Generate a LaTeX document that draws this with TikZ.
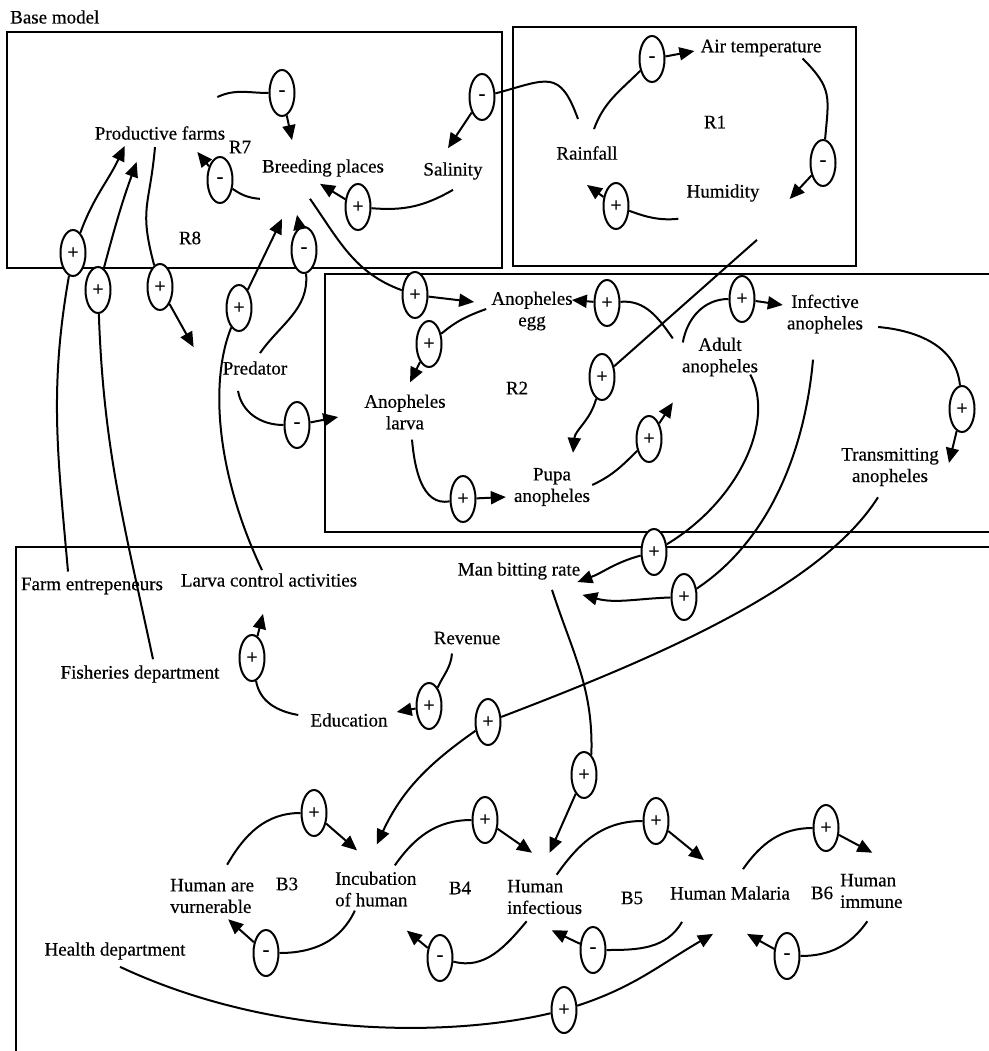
\documentclass[tikz,border=0pt]{standalone}
\usepackage{fontspec}
\setmainfont{Liberation Serif}[FakeBold=0.4]
\usetikzlibrary{shapes.geometric,arrows.meta}

\begin{document}
\begin{tikzpicture}[x=1pt,y=1pt,
   var/.style={inner sep=2pt,align=center,font=\fontsize{19}{21.5}\selectfont},
   pol/.style={draw,ellipse,fill=white,line width=2pt,inner sep=0pt,
     minimum width=25pt,minimum height=46pt,font=\fontsize{20}{20}\selectfont},
   flow/.style={line width=2pt},
   flowto/.style={flow,-{Triangle[length=15pt,width=13pt]}},
   box/.style={line width=2.4pt}]

\useasboundingbox (0,0) rectangle (988,-1051);

% frames
\draw[box] (7,-32) rectangle (502,-268);
\draw[box] (513,-27) rectangle (856,-266);
\draw[box] (325,-274) rectangle (1000,-532);
\draw[box] (16,-547) rectangle (1000,-1060);

\node[var,anchor=west] (base) at (8,-17) {Base model};

% variables
\node[var] (pf) at (160,-133) {Productive farms};
\node[var] (r7) at (240,-147) {R7};
\node[var] (bp) at (323,-168) {Breeding places};
\node[var] (sal) at (453,-171) {Salinity};
\node[var] (r8) at (190,-238) {R8};
\node[var] (rain) at (587,-153) {Rainfall};
\node[var] (air) at (761,-48) {Air temperature};
\node[var] (r1) at (715,-122) {R1};
\node[var] (hum) at (723,-193) {Humidity};
\node[var] (pred) at (255,-368) {Predator};
\node[var] (egg) at (532,-311) {Anopheles\\egg};
\node[var] (larva) at (405,-412) {Anopheles\\larva};
\node[var] (r2) at (517,-388) {R2};
\node[var] (pupa) at (552,-487) {Pupa\\anopheles};
\node[var] (adult) at (720,-357) {Adult\\anopheles};
\node[var] (inf) at (825,-314) {Infective\\anopheles};
\node[var] (trans) at (890,-467) {Transmitting\\anopheles};
\node[var] (mbr) at (519,-571) {Man bitting rate};
\node[var] (farm) at (92,-586) {Farm entrepeneurs};
\node[var] (lca) at (269,-580) {Larva control activities};
\node[var] (fish) at (140,-674) {Fisheries department};
\node[var] (rev) at (467,-638) {Revenue};
\node[var] (edu) at (349,-720) {Education};
\node[var,align=left,anchor=west] (vul) at (168,-896) {Human are\\vurnerable};
\node[var] (b3) at (287,-884) {B3};
\node[var,align=left,anchor=west] (inc) at (333,-889) {Incubation\\of human};
\node[var] (b4) at (460,-888) {B4};
\node[var,align=left,anchor=west] (hinf) at (505,-897) {Human\\infectious};
\node[var] (b5) at (632,-898) {B5};
\node[var] (mal) at (730,-893) {Human Malaria};
\node[var] (b6) at (822,-893) {B6};
\node[var,align=left,anchor=west] (imm) at (838,-891) {Human\\immune};
\node[var] (health) at (115,-951) {Health department};

% polarities
\node[pol] (m1) at (282,-93) {-};
\node[pol] (m2) at (220,-180) {-};
\node[pol] (m3) at (482,-97) {-};
\node[pol] (p1) at (358,-207) {+};
\node[pol] (m4) at (652,-59) {-};
\node[pol] (m5) at (823,-163) {-};
\node[pol] (p2) at (616,-206) {+};
\node[pol] (p3) at (73,-253) {+};
\node[pol] (p4) at (98,-290) {+};
\node[pol] (p5) at (160,-287) {+};
\node[pol] (p6) at (239,-308) {+};
\node[pol] (m6) at (304,-250) {-};
\node[pol] (m7) at (297,-425) {-};
\node[pol] (p7) at (415,-295) {+};
\node[pol] (p8) at (429,-344) {+};
\node[pol] (p9) at (607,-303) {+};
\node[pol] (p10) at (602,-377) {+};
\node[pol] (p11) at (463,-499) {+};
\node[pol] (p12) at (649,-439) {+};
\node[pol] (p13) at (742,-299) {+};
\node[pol] (p14) at (962,-409) {+};
\node[pol] (p15) at (654,-552) {+};
\node[pol] (p16) at (684,-597) {+};
\node[pol] (p17) at (584,-775) {+};
\node[pol] (p18) at (488,-722) {+};
\node[pol] (p19) at (252,-658) {+};
\node[pol] (p20) at (429,-706) {+};
\node[pol] (p21) at (314,-813) {+};
\node[pol] (m8) at (266,-953) {-};
\node[pol] (p22) at (485,-820) {+};
\node[pol] (m9) at (440,-958) {-};
\node[pol] (p23) at (656,-821) {+};
\node[pol] (m10) at (593,-950) {-};
\node[pol] (p24) at (826,-828) {+};
\node[pol] (m11) at (787,-956) {-};
\node[pol] (p25) at (564,-1010) {+};

% links
\draw[flow] ([xshift=-10,yshift=27]pf.north east) to[out=25,in=180] (m1);
\draw[flowto] (m1) -- ([xshift=-31,yshift=17]bp.north);
\draw[flow] ([yshift=-20]bp.south west) to[out=175,in=-35] (m2);
\draw[flowto] (m2) -- ([xshift=-30,yshift=-10]pf.south east);
\draw[flow] ([xshift=-9,yshift=25]rain.north) to[out=110,in=15,looseness=1.6] (m3);
\draw[flowto] (m3) -- ([xshift=-5,yshift=12]sal.north);
\draw[flow] ([yshift=-8]sal.south) to[out=-150,in=-5] (p1);
\draw[flowto] (p1) -- ([xshift=-3,yshift=-5]bp.south);
\draw[flow] ([xshift=7,yshift=15]rain.north) to[out=70,in=-135] (m4);
\draw[flowto] (m4) -- ([xshift=-4,yshift=-3]air.west);
\draw[flow] ([xshift=-21]air.south east) to[out=-45,in=85,looseness=1.3] (m5);
\draw[flowto] (m5) -- ([xshift=28,yshift=-6]hum.east);
\draw[flow] ([xshift=-6,yshift=-15]hum.south west) to[out=185,in=-20] (p2);
\draw[flowto] (p2) -- ([yshift=-23]rain.south);

\draw[flow] ([xshift=-24,yshift=4]farm.north) to[out=95,in=-100] (p3);
\draw[flowto] (p3) to[out=70,in=-115] ([xshift=32,yshift=-4]pf.south west);
\draw[flow] ([xshift=13,yshift=4]fish.north) to[out=102,in=-88] (p4);
\draw[flowto] (p4) to[out=75,in=-110] ([xshift=44,yshift=-20]pf.south west);
\draw[flow] ([xshift=-5,yshift=-5]pf.south) to[out=-95,in=105,looseness=1.3] (p5);
\draw[flowto] (p5) -- ([xshift=-27,yshift=12]pred.north west);
\draw[flow] ([xshift=-7,yshift=1]lca.north) .. controls +(-45,95) and +(-30,-75) .. (p6);
\draw[flowto] (p6) -- ([xshift=-41,yshift=-40]bp.south);
\draw[flow] ([xshift=5,yshift=6]pred.north) to[out=55,in=-85] (m6);
\draw[flowto] (m6) -- ([xshift=-26,yshift=-36]bp.south);
\draw[flow] ([xshift=-17,yshift=-14]pred.south) to[out=-80,in=180] (m7);
\draw[flowto] (m7) -- ([xshift=-24,yshift=-5]larva.west);

\draw[flow] ([xshift=-13,yshift=-20]bp.south) to[out=-55,in=160] (p7);
\draw[flowto] (p7) -- ([xshift=-15,yshift=9]egg.west);
\draw[flow] ([xshift=-3,yshift=2]egg.west) to[out=200,in=40] (p8);
\draw[flowto] (p8) -- ([xshift=5,yshift=10]larva.north);
\draw[flow] ([xshift=-7,yshift=-3]adult.north west) to[out=125,in=5] (p9);
\draw[flowto] (p9) -- ([xshift=-3,yshift=11]egg.east);
\draw[flow] ([xshift=34,yshift=-36]hum.south) -- (p10);
\draw[flowto] (p10) to[out=-105,in=85] ([xshift=21,yshift=13]pupa.north);
\draw[flow] ([xshift=7,yshift=-8]larva.south) to[out=-85,in=190] (p11);
\draw[flowto] (p11) -- ([xshift=-6,yshift=-10]pupa.west);
\draw[flow] ([yshift=2]pupa.east) to[out=25,in=-135] (p12);
\draw[flowto] (p12) -- ([xshift=-7,yshift=-24]adult.south west);
\draw[flow] ([xshift=3,yshift=-7]adult.north west) to[out=80,in=180] (p13);
\draw[flowto] (p13) -- ([xshift=-2,yshift=9]inf.west);
\draw[flow] ([xshift=13,yshift=-13]inf.east) to[out=-5,in=95] (p14);
\draw[flowto] (p14) -- ([xshift=8,yshift=4]trans.east);

\draw[flow] ([xshift=-10,yshift=4]adult.south east) .. controls +(25,-45) and +(86,52) .. (p15);
\draw[flowto] (p15) to[out=195,in=20] ([xshift=-5,yshift=-11]mbr.east);
\draw[flow] ([xshift=-12,yshift=-24]inf.south) .. controls +(-8,-90) and +(86,57) .. (p16);
\draw[flowto] (p16) to[out=182,in=-15] ([yshift=-13]mbr.south east);
\draw[flow] ([xshift=33,yshift=-8]mbr.south) to[out=-72,in=88] (p17.70);
\draw[flowto] (p17) -- ([xshift=5,yshift=25]hinf.north);
\draw[flow] ([xshift=-12,yshift=-9]trans.south) .. controls +(-58,-92) and +(162,62) .. (p18);
\draw[flowto] (p18) to[out=-145,in=65] ([xshift=1,yshift=25]inc.north);
\draw[flow] ([xshift=-10,yshift=5]edu.west) to[out=170,in=-80] (p19);
\draw[flowto] (p19) -- ([xshift=-6,yshift=-25]lca.south);
\draw[flow] ([xshift=-15,yshift=-7]rev.south) to[out=-95,in=65] (p20);
\draw[flowto] (p20) -- ([xshift=7,yshift=8]edu.east);

\draw[flow] ([xshift=15,yshift=12]vul.north) to[out=60,in=180] (p21);
\draw[flowto] (p21) -- ([xshift=24,yshift=19]inc.north west);
\draw[flow] ([xshift=-21,yshift=-2]inc.south) to[out=-115,in=0] (m8);
\draw[flowto] (m8) -- ([xshift=16,yshift=-4]vul.south);
\draw[flow] ([xshift=19,yshift=4]inc.north) to[out=55,in=180] (p22);
\draw[flowto] (p22) -- ([xshift=27,yshift=25]hinf.north west);
\draw[flow] ([xshift=-18,yshift=-5]hinf.south) to[out=-130,in=-15] (m9);
\draw[flowto] (m9) -- ([xshift=31,yshift=-22]inc.south);
\draw[flow] ([xshift=12,yshift=3]hinf.north) to[out=55,in=180] (p23);
\draw[flowto] (p23) -- ([xshift=36,yshift=24]mal.north west);
\draw[flow] ([xshift=-48,yshift=-20]mal.south) to[out=-120,in=0] (m10);
\draw[flowto] (m10) -- ([xshift=7,yshift=-14]hinf.south);
\draw[flow] ([xshift=13,yshift=15]mal.north) to[out=55,in=180] (p24);
\draw[flowto] (p24) -- ([xshift=1,yshift=19]imm.north);
\draw[flow] ([xshift=-4,yshift=-11]imm.south) to[out=-125,in=0] (m11);
\draw[flowto] (m11) -- ([xshift=17,yshift=-32]mal.south);
\draw[flow] ([xshift=5,yshift=-5]health.south) .. controls +(160,-75) and +(-104,-25) .. (p25);
\draw[flowto] (p25) to[out=18,in=210] ([xshift=-17,yshift=-32]mal.south);

\end{tikzpicture}
\end{document}
